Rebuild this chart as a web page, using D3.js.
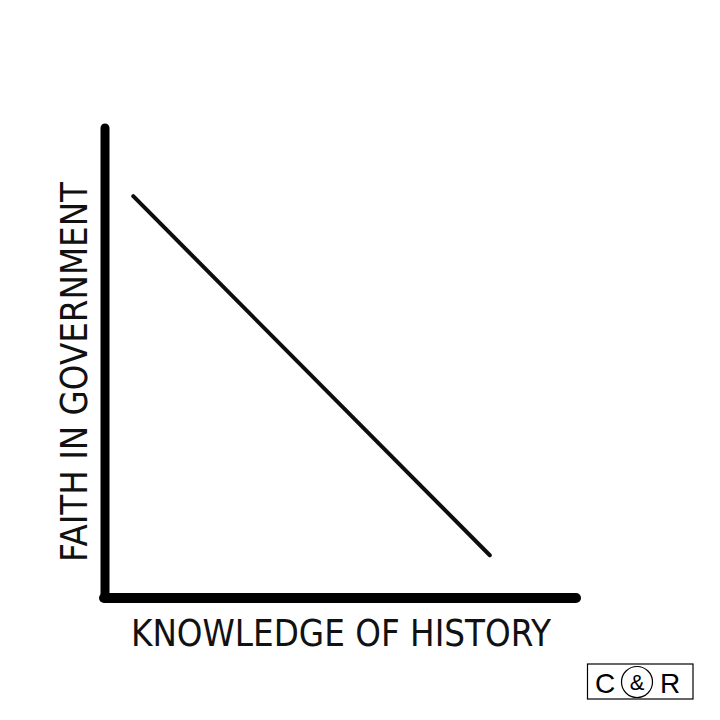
<!DOCTYPE html>
<html><head><meta charset="utf-8">
<script src="https://cdn.jsdelivr.net/npm/d3@7"></script>
<style>body{margin:0;background:#fff}</style>
</head><body>
<svg id="c" width="720" height="720"></svg>
<script>
const xLabel = "KNOWLEDGE OF HISTORY";
const yLabel = "FAITH IN GOVERNMENT";
const knowledge = [0.6, 8.17];
const faith = [8.55, 0.91];
const logo = ["C", "&", "R"];

const svg = d3.select("#c");
const x = d3.scaleLinear().domain([0, 10]).range([105, 576]);
const y = d3.scaleLinear().domain([0, 10]).range([598, 128]);

const defs = svg.append("defs");
defs.append("filter").attr("id","blur").append("feGaussianBlur").attr("stdDeviation",0.7);

// axes
svg.append("line").attr("x1", x(0)).attr("y1", y(10)).attr("x2", x(0)).attr("y2", y(0))
  .attr("stroke","#000").attr("stroke-width",9).attr("stroke-linecap","round");
svg.append("line").attr("x1", x(0)-1).attr("y1", y(0)).attr("x2", x(10)).attr("y2", y(0))
  .attr("stroke","#000").attr("stroke-width",10).attr("stroke-linecap","round");

// data line
const pts = knowledge.map((k,i)=>[k, faith[i]]);
svg.append("path").datum(pts)
  .attr("d", d3.line().x(d=>x(d[0])).y(d=>y(d[1])))
  .attr("fill","none").attr("stroke","#111").attr("stroke-width",4)
  .attr("stroke-linecap","round").attr("filter","url(#blur)");

const font = "'Liberation Sans Narrow','DejaVu Sans Condensed','Liberation Sans',sans-serif";
svg.append("text").attr("x",131).attr("y",646).text(xLabel)
  .attr("font-family",font).attr("font-size",37).attr("fill","#111")
  .attr("textLength",420).attr("lengthAdjust","spacingAndGlyphs");

svg.append("text").attr("transform","translate(87,562) rotate(-90)").text(yLabel)
  .attr("font-family",font).attr("font-size",38).attr("fill","#111")
  .attr("textLength",380).attr("lengthAdjust","spacingAndGlyphs");

// logo
const g = svg.append("g");
g.append("rect").attr("x",587.5).attr("y",664).attr("width",105.5).attr("height",35)
  .attr("fill","none").attr("stroke","#000").attr("stroke-width",1.2);
g.append("circle").attr("cx",637).attr("cy",682).attr("r",15.5)
  .attr("fill","none").attr("stroke","#000").attr("stroke-width",1.2);
const lx = [605, 637, 670];
logo.forEach((t,i)=>{
  g.append("text").attr("x",lx[i]).attr("y",i===1?690:693).attr("text-anchor","middle")
   .attr("font-family","'Liberation Sans',sans-serif").attr("font-size",i===1?22:28).text(t);
});
</script>
</body></html>
